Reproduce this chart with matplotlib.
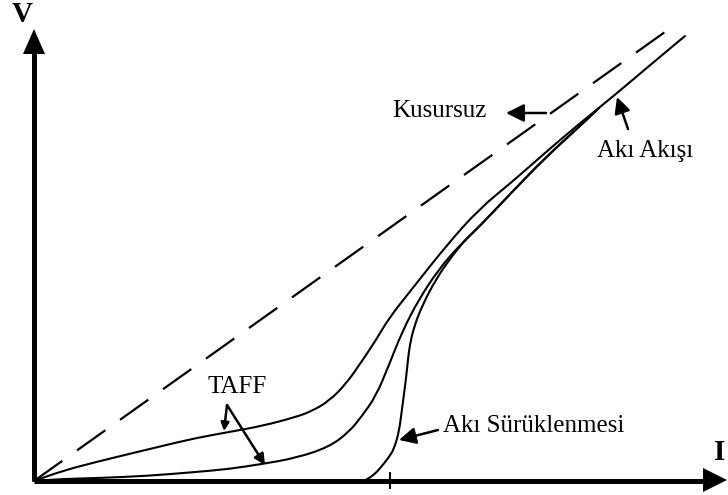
import matplotlib
matplotlib.use("Agg")
import matplotlib.pyplot as plt
from matplotlib.patches import Polygon, PathPatch
from matplotlib.path import Path

plt.rcParams['lines.scale_dashes'] = False
SERIF = ['Liberation Serif', 'DejaVu Serif']

# ---- data (I, V in arbitrary units) ----
ohmic_I = [0, 645]
ohmic_V = [0, 459]

taff_hi_I = [0, 28, 62, 95, 128, 162, 195, 228, 262, 278, 295, 312, 328, 342, 355,
             378, 412, 445, 478, 512, 545, 582, 615, 651]
taff_hi_V = [0, 10, 19, 27, 35, 43, 49, 55, 64, 70, 80, 97, 120, 141, 163,
             192, 235, 272, 299, 329, 357, 387, 415, 445]

taff_lo_I = [0, 28, 65, 112, 162, 195, 228, 262, 295, 315, 328, 342, 355, 368,
             385, 405, 425, 445, 478, 512, 545, 565]
taff_lo_V = [0, 2, 3, 5, 9, 12, 17, 23, 34, 49, 65, 85, 116, 149,
             182, 212, 235, 254, 289, 324, 354, 373]

creep_I = [330, 340, 348, 355, 360, 365, 368, 372, 374, 376, 380, 388, 402, 418,
           432, 445, 478, 512, 545, 565]
creep_V = [0, 6, 15, 24, 32, 49, 72, 102, 122, 137, 154, 175, 202, 225,
           242, 254, 289, 324, 354, 373]

tick_I = 356

# ---- figure in pixel-like coordinates: origin at pixel (34, 481) ----
OX, OY = 34, 481
def P(px, py):
    return (px - OX, OY - py)

fig = plt.figure(figsize=(7.28, 4.95), dpi=100)
ax = fig.add_axes([0, 0, 1, 1])
ax.set_xlim(-OX, 728 - OX)
ax.set_ylim(OY - 495, OY)
ax.axis('off')

# axes
ax.plot([0, 0], [0, P(0, 52)[1]], color='k', lw=3.6, solid_capstyle='butt')
ax.plot([0, P(705, 0)[0]], [0, 0], color='k', lw=3.6, solid_capstyle='butt')
ax.add_patch(Polygon([P(34, 29), P(23, 54), P(45, 54)], closed=True, color='k', lw=0))
ax.add_patch(Polygon([P(727, 480), P(703, 468), P(703, 492)], closed=True, color='k', lw=0))
ax.plot([tick_I, tick_I], [P(0, 473)[1], P(0, 488)[1]], color='k', lw=1.4)

# curves
ax.plot(ohmic_I, ohmic_V, color='k', lw=1.6, dashes=(25, 13))

def smooth_curve(xs, ys):
    pts = list(zip(xs, ys))
    verts = [pts[0]]
    codes = [Path.MOVETO]
    mid = lambda a, b: ((a[0] + b[0]) / 2, (a[1] + b[1]) / 2)
    verts.append(mid(pts[0], pts[1])); codes.append(Path.LINETO)
    for i in range(1, len(pts) - 1):
        verts += [pts[i], mid(pts[i], pts[i + 1])]
        codes += [Path.CURVE3, Path.CURVE3]
    verts.append(pts[-1]); codes.append(Path.LINETO)
    ax.add_patch(PathPatch(Path(verts, codes), facecolor='none', edgecolor='k',
                           lw=1.5, joinstyle='round', capstyle='round'))

for xs, ys in [(taff_hi_I, taff_hi_V), (taff_lo_I, taff_lo_V), (creep_I, creep_V)]:
    smooth_curve(xs, ys)

# axis labels
ax.text(*P(22, 15), 'V', family=SERIF, fontweight='bold', fontsize=21,
        ha='center', va='center')
ax.text(*P(720, 453), 'I', family=SERIF, fontweight='bold', fontsize=21,
        ha='center', va='center')

# annotations
ax.text(*P(392, 117), 'Kusursuz', family=SERIF, fontsize=18, ha='left', va='baseline')
ax.text(*P(597, 157), 'Akı Akışı', family=SERIF, fontsize=18, ha='left', va='baseline')
ax.text(*P(207, 393), 'TAFF', family=SERIF, fontsize=18, ha='left', va='baseline')
ax.text(*P(443, 432), 'Akı Sürüklenmesi', family=SERIF, fontsize=18, ha='left', va='baseline')

def arrow(tail, tip, scale):
    ax.annotate('', xy=P(*tip), xytext=P(*tail),
                arrowprops=dict(arrowstyle='-|>,head_length=0.4,head_width=0.2',
                                color='k', lw=1.8, mutation_scale=scale,
                                shrinkA=0, shrinkB=0))

arrow((546, 113), (506, 113), 27)
arrow((628, 129), (617, 97), 24)
arrow((438, 430), (399, 440), 25)
arrow((227, 405), (224, 431), 12)
arrow((227, 405), (265, 465), 16)

fig.savefig('out.png', dpi=100)
